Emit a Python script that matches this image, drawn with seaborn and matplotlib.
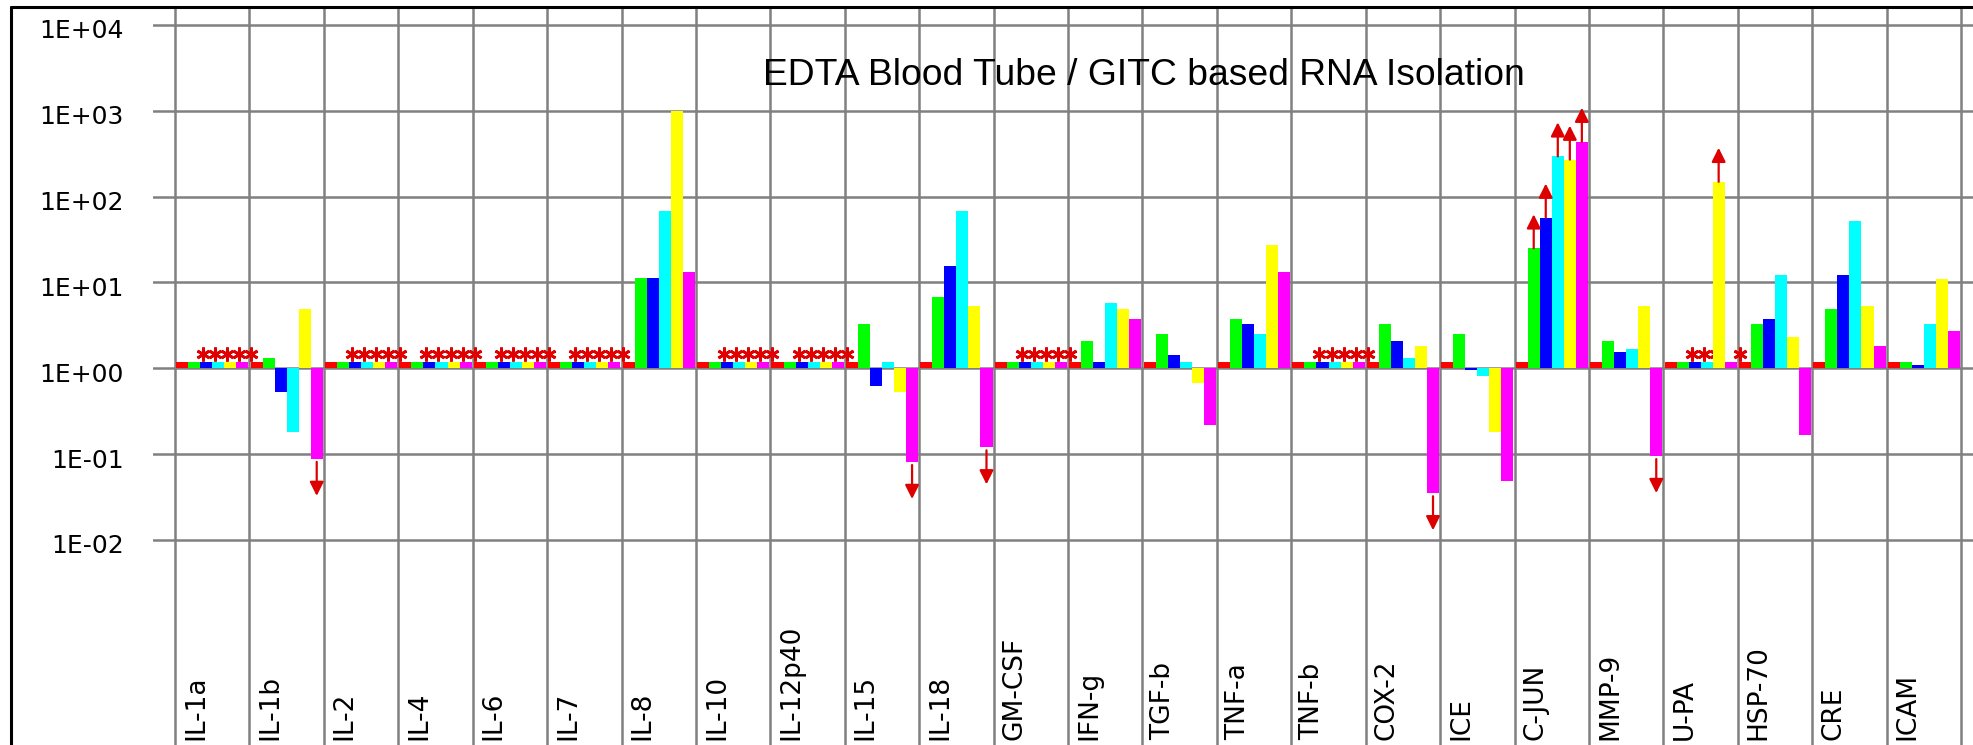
import numpy as np
import pandas as pd
import matplotlib
matplotlib.use("Agg")
import matplotlib.pyplot as plt
import matplotlib.transforms as mtransforms
from matplotlib.lines import Line2D
import seaborn as sns

# categories and fold-change values (1.2 = bar drawn as a small stub)
genes = ["IL-1a", "IL-1b", "IL-2", "IL-4", "IL-6", "IL-7", "IL-8", "IL-10",
         "IL-12p40", "IL-15", "IL-18", "GM-CSF", "IFN-g", "TGF-b", "TNF-a",
         "TNF-b", "COX-2", "ICE", "C-JUN", "MMP-9", "U-PA", "HSP-70", "CRE", "ICAM"]
series = ["S1", "S2", "S3", "S4", "S5", "S6"]
colors = ["#ff0000", "#00ff00", "#0000ff", "#00ffff", "#ffff00", "#ff00ff"]

s1 = [1.2] * 24
s2 = [1.2, 1.32, 1.2, 1.2, 1.2, 1.2, 11.2, 1.2, 1.2, 3.25, 6.7, 1.2,
      2.1, 2.5, 3.8, 1.2, 3.25, 2.5, 25, 2.1, 1.2, 3.25, 4.85, 1.2]
s3 = [1.2, 0.53, 1.2, 1.2, 1.2, 1.2, 11.2, 1.2, 1.2, 0.62, 15.5, 1.2,
      1.2, 1.42, 3.25, 1.2, 2.1, 0.95, 57, 1.53, 1.2, 3.8, 12.1, 1.1]
s4 = [1.2, 0.18, 1.2, 1.2, 1.2, 1.2, 67.5, 1.2, 1.2, 1.2, 67.5, 1.2,
      5.75, 1.2, 2.5, 1.2, 1.32, 0.81, 295, 1.66, 1.2, 12.1, 52.6, 3.25]
s5 = [1.2, 4.85, 1.2, 1.2, 1.2, 1.2, 1000, 1.2, 1.2, 0.53, 5.3, 1.2,
      4.85, 0.67, 27, 1.2, 1.8, 0.18, 270, 5.3, 149, 2.3, 5.3, 11.1]
s6 = [1.2, 0.088, 1.2, 1.2, 1.2, 1.2, 13.1, 1.2, 1.2, 0.081, 0.12, 1.2,
      3.8, 0.22, 13.1, 1.2, 0.035, 0.049, 437, 0.095, 1.2, 0.166, 1.8, 2.7]

# not-detected marks (red stars)
star_genes = ["IL-1a", "IL-2", "IL-4", "IL-6", "IL-7", "IL-10", "IL-12p40",
              "GM-CSF", "TNF-b", "U-PA"]
star_series = [["S2", "S3", "S4", "S5", "S6"]] * 9 + [["S2", "S3", "S4", "S6"]]

# out-of-range arrows
arrows_up = [("C-JUN", "S2"), ("C-JUN", "S3"), ("C-JUN", "S4"),
             ("C-JUN", "S5"), ("C-JUN", "S6"), ("U-PA", "S5")]
arrows_down = [("IL-1b", "S6"), ("IL-15", "S6"), ("IL-18", "S6"),
               ("COX-2", "S6"), ("MMP-9", "S6")]

yticks = [-2, -1, 0, 1, 2, 3, 4]
ylabels = ["1E-02", "1E-01", "1E+00", "1E+01", "1E+02", "1E+03", "1E+04"]
title = "EDTA Blood Tube / GITC based RNA Isolation"

values = dict(zip(series, [s1, s2, s3, s4, s5, s6]))
df = pd.DataFrame([(g, s, values[s][i]) for s in series for i, g in enumerate(genes)],
                  columns=["gene", "series", "value"])
df["logval"] = np.log10(df["value"])

sns.set_style("white")
plt.rcParams["font.family"] = ["DejaVu Sans"]
plt.rcParams["text.color"] = "black"
plt.rcParams["ytick.color"] = "black"
plt.rcParams["ytick.labelcolor"] = "black"

W, H = 1973, 745
fig = plt.figure(figsize=(W / 100, H / 100), dpi=100)
ax = fig.add_axes([153 / W, 0, (W - 153) / W, (H - 7) / H])

sns.barplot(data=df, x="gene", y="logval", hue="series", palette=colors,
            order=genes, hue_order=series, width=0.97, saturation=1,
            linewidth=0, legend=False, ax=ax, zorder=1)

pitch = 74.42
dec = 85.83
ax.set_xlim(-0.5 - 22 / pitch, -0.5 + (W - 175) / pitch)
ax.set_ylim(4 - (H - 25) / dec, 4 + 18 / dec)

for sp in ax.spines.values():
    sp.set_visible(False)

ax.set_axisbelow(True)
ax.yaxis.grid(True, color="#808080", linewidth=1.8)
for i in range(len(genes) + 1):
    ax.axvline(i - 0.5, color="#808080", linewidth=1.8, zorder=0.6)

ax.set_yticks(yticks)
ax.set_yticklabels(ylabels, fontsize=18, color="black")
ax.tick_params(axis="y", length=0, pad=21)
shift = mtransforms.ScaledTranslation(0, -4 / 100, fig.dpi_scale_trans)
for lab in ax.get_yticklabels():
    lab.set_transform(lab.get_transform() + shift)
ax.set_xticks([])
ax.set_xlabel("")
ax.set_ylabel("")

# category labels inside the plot
tr = ax.get_xaxis_transform()
for i, g in enumerate(genes):
    ax.text(i - 0.5 + 8 / pitch, 5 / (H - 7), g, transform=tr, rotation=90,
            ha="left", va="bottom", fontsize=19, color="black")


def bar_center(gene, s):
    patch = ax.containers[series.index(s)][genes.index(gene)]
    return patch.get_x() + patch.get_width() / 2


bw = ax.containers[0][0].get_width()
for g, ss in zip(star_genes, star_series):
    for s in ss:
        ax.plot(bar_center(g, s) + 0.75 * bw, np.log10(1.2) + 8 / dec,
                marker=(6, 2, 0), markersize=10, markeredgewidth=2,
                color="#e00000", zorder=0.8)

arrow_kw = dict(arrowstyle="-|>,head_length=0.6,head_width=0.3",
                color="#dd0000", lw=1.6, shrinkA=0, shrinkB=0, mutation_scale=14)
for g, s in arrows_up:
    y0 = np.log10(values[s][genes.index(g)])
    ax.annotate("", xy=(bar_center(g, s), y0 + 34 / dec),
                xytext=(bar_center(g, s), y0), arrowprops=arrow_kw, zorder=3)
for g, s in arrows_down:
    y0 = np.log10(values[s][genes.index(g)]) - 3 / dec
    ax.annotate("", xy=(bar_center(g, s), y0 - 34 / dec),
                xytext=(bar_center(g, s), y0), arrowprops=arrow_kw, zorder=3)

fig.text(763 / W, 1 - 85 / H, title, ha="left", va="baseline",
         fontsize=26.8, family="Liberation Sans", color="black")

# outer frame (top and left edges)
fig.add_artist(Line2D([11 / W, 1], [1 - 7 / H, 1 - 7 / H], color="black",
                      lw=2.2, transform=fig.transFigure))
fig.add_artist(Line2D([11 / W, 11 / W], [0, 1 - 7 / H], color="black",
                      lw=2.2, transform=fig.transFigure))

fig.savefig("out.png", dpi=100, facecolor="white")
